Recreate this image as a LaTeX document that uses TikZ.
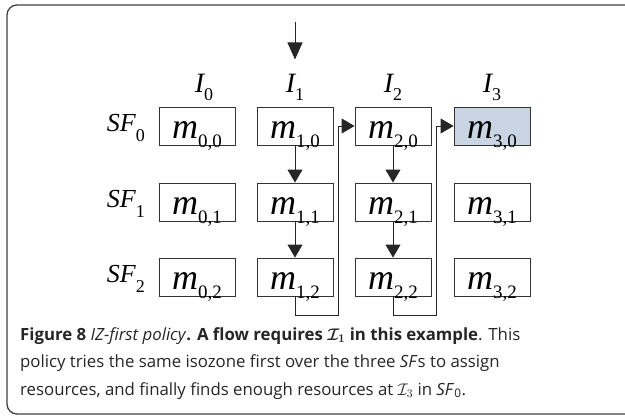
\documentclass[tikz,border=0pt]{standalone}
\usepackage{fix-cm}
\usepackage{fontspec}
\setmainfont{Open Sans}
\newfontfamily\tms{Liberation Serif}
\usetikzlibrary{arrows.meta}

\definecolor{hitblue}{HTML}{C9D5E3}
\newcommand{\mcell}[1]{{\tms\fontsize{36}{36}\selectfont\itshape m}{\tms\raisebox{-9pt}{\fontsize{19}{19}\selectfont #1}}}
\newcommand{\izone}[1]{{\tms\fontsize{28}{28}\selectfont\itshape I}{\tms\raisebox{-8pt}{\fontsize{18}{18}\selectfont #1}}}
\newcommand{\sfrow}[1]{{\tms\fontsize{26}{26}\selectfont\itshape SF}{\tms\raisebox{-10pt}{\fontsize{18}{18}\selectfont #1}}}

\begin{document}
\begin{tikzpicture}[x=1pt,y=-1pt,
  cell/.style={draw=black!80, line width=0.9pt, minimum width=76pt, minimum height=38pt, inner sep=0pt, text height=26pt, text depth=2pt},
  hit/.style={cell, fill=hitblue},
  lab/.style={inner sep=0pt},
  arr/.style={draw=black!85, line width=0.9pt, -{Triangle[length=13pt,width=15pt]}}]
\useasboundingbox (0,0) rectangle (625,416);
\draw[black!75, line width=1.3pt, rounded corners=10pt] (7,5) rectangle (660,414);
% isozone heads
\node[lab, anchor=base] (i0) at (204,92) {\izone{0}};
\node[lab, anchor=base] (i1) at (295,92) {\izone{1}};
\node[lab, anchor=base] (i2) at (393,92) {\izone{2}};
\node[lab, anchor=base] (i3) at (492,92) {\izone{3}};
% rows
\node[lab, anchor=base east] (sf0) at (145,131) {\sfrow{0}};
\node[lab, anchor=base east] (sf1) at (145,207) {\sfrow{1}};
\node[lab, anchor=base east] (sf2) at (145,282) {\sfrow{2}};
\node[cell] (m00) at (197,126) {\mcell{0,0}};
\node[cell] (m10) at (295,126) {\mcell{1,0}};
\node[cell] (m20) at (393,126) {\mcell{2,0}};
\node[hit] (m30) at (492,126) {\mcell{3,0}};
\node[cell] (m01) at (197,202) {\mcell{0,1}};
\node[cell] (m11) at (295,202) {\mcell{1,1}};
\node[cell] (m21) at (393,202) {\mcell{2,1}};
\node[cell] (m31) at (492,202) {\mcell{3,1}};
\node[cell] (m02) at (197,277) {\mcell{0,2}};
\node[cell] (m12) at (295,277) {\mcell{1,2}};
\node[cell] (m22) at (393,277) {\mcell{2,2}};
\node[cell] (m32) at (492,277) {\mcell{3,2}};
% search path
\coordinate (src) at (295,22);
\coordinate (lp1) at (338,315);
\coordinate (lp2) at (436,315);
\draw[arr, -{Triangle[length=17pt,width=15pt]}] (src) -- (i1.north) [shorten >=14pt];
\draw[arr] (m10) -- (m11);
\draw[arr] (m11) -- (m12);
\draw[arr] (m12.south) |- (lp1) |- (m20.west);
\draw[arr] (m20) -- (m21);
\draw[arr] (m21) -- (m22);
\draw[arr] (m22.south) |- (lp2) |- (m30.west);
% caption
\node[lab, anchor=north west, align=left, text=black!85, font=\fontsize{16.8}{27.5}\selectfont] (cap) at (20,327)
  {\textbf{Figure 8} \textit{IZ-first policy}\textbf{. A flow requires {\boldmath$\mathcal{I}_1$} in this example}. This\\
   policy tries the same isozone first over the three \textit{SF}s to assign\\
   resources, and finally finds enough resources at $\mathcal{I}_3$ in \textit{SF}\textsubscript{0}.};
\end{tikzpicture}
\end{document}
